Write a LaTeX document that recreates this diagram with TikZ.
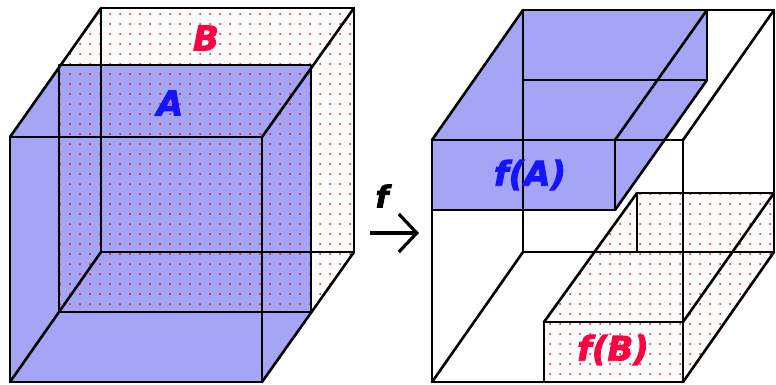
\documentclass[tikz,border=0pt]{standalone}
\usepackage{fontspec}
\newfontfamily\lblfont{DejaVu Sans}[BoldItalicFeatures={FakeBold=2.5}]
\usepackage{tikz}
\usetikzlibrary{arrows.meta,patterns.meta}
\definecolor{Ablue}{RGB}{165,165,245}
\definecolor{Atext}{RGB}{20,20,255}
\definecolor{Btext}{RGB}{255,0,64}

\begin{document}
\begin{tikzpicture}[x=1pt,y=-1pt,
  edge/.style={black, line width=2.6pt, line cap=round, line join=round},
  setA/.style={fill=Ablue},
  setB/.style={pattern={Dots[distance=10pt,radius=1pt]}, pattern color=red},
  lbl/.style={font=\lblfont\bfseries\itshape\fontsize{34}{34}\selectfont}]
\useasboundingbox (0,0) rectangle (776,384);

 %left cube: A front half, B back half
 \fill[setA] (10,137) -- (59,65) -- (311,65) -- (311,312) -- (262,382) -- (10,382) -- cycle;
 \path[setB] (59,65) -- (101,8) -- (354,8) -- (354,252) -- (311,312) -- (59,312) -- cycle;
 \draw[edge] (10,137) rectangle (262,382);
 \draw[edge] (101,8) rectangle (354,252);
 \draw[edge] (59,65) rectangle (311,312);
 \draw[edge] (10,137) -- (101,8);
 \draw[edge] (262,137) -- (354,8);
 \draw[edge] (262,382) -- (354,252);
 \draw[edge] (10,382) -- (101,252);
 \node[lbl, Btext] (labB) at (206,38) {B};
 \node[lbl, Atext] (labA) at (170,103) {A};

 %map f
 \node[lbl, black, font=\lblfont\bfseries\itshape\fontsize{30}{30}\selectfont] (labf) at (382,196) {f};
 \coordinate (fstart) at (370,233);
 \coordinate (fend) at (419,233);
 \draw[black, line width=3.2pt, -{Straight Barb[length=18pt,width=38pt]}] (fstart) -- (fend);

 %right cube: f(A) and f(B)
 \fill[setA] (432,140) -- (523,10) -- (707,10) -- (707,80) -- (615,210) -- (432,210) -- cycle;
 \path[setB] (544,322) -- (637,193) -- (774,193) -- (774,252) -- (683,382) -- (544,382) -- cycle;
 \draw[edge] (432,140) rectangle (683,382);
 \draw[edge] (523,10) rectangle (774,252);
 \draw[edge] (432,140) -- (523,10);
 \draw[edge] (683,140) -- (774,10);
 \draw[edge] (683,382) -- (774,252);
 \draw[edge] (432,382) -- (523,252);
 %f(A)
 \draw[edge] (432,140) rectangle (615,210);
 \draw[edge] (523,10) rectangle (707,80);
 \draw[edge] (615,140) -- (707,10);
 \draw[edge] (615,210) -- (707,80);
 %f(B)
 \draw[edge] (544,322) rectangle (683,382);
 \draw[edge] (637,193) rectangle (774,252);
 \draw[edge] (544,322) -- (637,193);
 \draw[edge] (683,322) -- (774,193);
 \node[lbl, Atext] (labfA) at (530,175) {f(A)};
 \node[lbl, Btext] (labfB) at (613,350) {f(B)};
\end{tikzpicture}
\end{document}
